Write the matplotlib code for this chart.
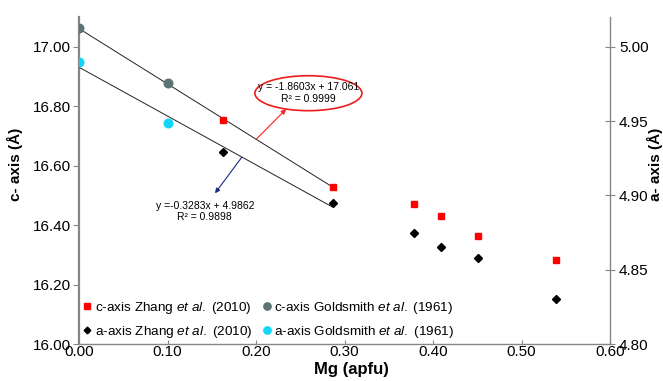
import matplotlib

matplotlib.use("Agg")
import matplotlib.pyplot as plt
from matplotlib.patches import Ellipse
import numpy as np

plt.rcParams["font.family"] = ["Liberation Sans", "DejaVu Sans"]
plt.rcParams["mathtext.fontset"] = "custom"
plt.rcParams["mathtext.rm"] = "Liberation Sans"
plt.rcParams["mathtext.it"] = "Liberation Sans:italic"

# c-axis (left scale, Å) and a-axis (right scale, Å) against Mg (apfu)
mg_zhang = [0.163, 0.287, 0.379, 0.409, 0.451, 0.539]
c_zhang = [16.754, 16.529, 16.470, 16.432, 16.362, 16.282]
a_zhang = [4.929, 4.895, 4.875, 4.865, 4.858, 4.830]

mg_gold = [0.0, 0.10]
c_gold = [17.062, 16.877]
a_gold = [4.990, 4.949]

# linear fits as printed on the chart
c_fit = (-1.8603, 17.061)
a_fit = (-0.3283, 4.9862)
fit_range = (0.0, 0.286)

lbl_c_zhang = r"c-axis Zhang $\mathit{et\ al.}$ (2010)"
lbl_c_gold = r"c-axis Goldsmith $\mathit{et\ al.}$ (1961)"
lbl_a_zhang = r"a-axis Zhang $\mathit{et\ al.}$ (2010)"
lbl_a_gold = r"a-axis Goldsmith $\mathit{et\ al.}$ (1961)"

GREY = "#868686"
SLATE = "#5c7474"
CYAN = "#12d6f7"

fig = plt.figure(figsize=(6.63, 3.81), dpi=100)
ax = fig.add_axes([79 / 663, 1 - 344 / 381, 531 / 663, 327 / 381])
ax2 = ax.twinx()

xs = np.array(fit_range)
ax.plot(xs, c_fit[0] * xs + c_fit[1], color="#222222", lw=0.7, zorder=2)
ax2.plot(xs, a_fit[0] * xs + a_fit[1], color="#222222", lw=0.7, zorder=2)

h1, = ax.plot(mg_zhang, c_zhang, "s", color="#ff0000", ms=4.6, ls="none",
              label=lbl_c_zhang, zorder=3)
h2, = ax.plot(mg_gold, c_gold, "o", color=SLATE, ms=6.2, ls="none",
              label=lbl_c_gold, zorder=3)
h3, = ax2.plot(mg_zhang, a_zhang, "D", color="black", ms=4.0, ls="none",
               label=lbl_a_zhang, zorder=3)
h4, = ax2.plot(mg_gold, a_gold, "o", color=CYAN, ms=6.2, ls="none",
               label=lbl_a_gold, zorder=3)

ax.set_xlim(0, 0.60)
ax.set_ylim(16.0, 17.1)
ax2.set_ylim(4.80, 5.02)
ax.set_xticks(np.arange(0, 0.61, 0.1))
ax.set_yticks(np.arange(16.0, 17.01, 0.2))
ax2.set_yticks(np.arange(4.80, 5.001, 0.05))
ax.xaxis.set_major_formatter(matplotlib.ticker.FormatStrFormatter("%.2f"))
ax.yaxis.set_major_formatter(matplotlib.ticker.FormatStrFormatter("%.2f"))
ax2.yaxis.set_major_formatter(matplotlib.ticker.FormatStrFormatter("%.2f"))

for a in (ax, ax2):
    a.spines["top"].set_visible(False)
    a.patch.set_visible(False)
ax.spines["right"].set_visible(False)
ax2.spines["left"].set_visible(False)
ax2.spines["bottom"].set_visible(False)
ax.spines["left"].set_color(GREY)
ax.spines["left"].set_linewidth(1.6)
ax.spines["bottom"].set_color(GREY)
ax.spines["bottom"].set_linewidth(1.0)
ax2.spines["right"].set_color(GREY)
ax2.spines["right"].set_linewidth(1.0)

ax.tick_params(axis="y", direction="out", length=4, width=0.8, color=GREY,
               labelsize=11, pad=2)
ax.tick_params(axis="x", direction="in", length=3, width=0.8, color=GREY,
               labelsize=11, pad=1)
ax2.tick_params(axis="y", direction="inout", length=7, width=0.8, color=GREY,
                labelsize=11, pad=3)

ax.set_xlabel("Mg (apfu)", fontsize=12, fontweight="bold", labelpad=0)
ax.xaxis.set_label_coords(0.5 + 7 / 531, -0.055)
ax.set_ylabel("c- axis (Å)", fontsize=11, fontweight="bold")
ax.yaxis.set_label_coords(-0.105, 0.55)
ax2.set_ylabel("a- axis (Å)", fontsize=11, fontweight="bold")
ax2.yaxis.set_label_coords(1.070, 0.55)

# fit equations
ax.text(0.2591, 16.865, "y = -1.8603x + 17.061", fontsize=7.5,
        ha="center", va="center")
ax.text(0.2591, 16.823, "R² = 0.9999", fontsize=7.5, ha="center", va="center")
ax.add_patch(Ellipse((0.432, 0.767), 0.2015, 0.107, transform=ax.transAxes,
                     fill=False, edgecolor="#ee1c1c", lw=1.2))
ax.annotate("", xy=(0.2340, 16.790), xytext=(0.2007, 16.690),
            arrowprops=dict(arrowstyle="-|>", color="#ff2020", lw=0.8,
                            mutation_scale=7, shrinkA=0, shrinkB=0))

ax.text(0.1424, 16.464, "y =-0.3283x + 4.9862", fontsize=7.5,
        ha="center", va="center")
ax.text(0.1412, 16.428, "R² = 0.9898", fontsize=7.5, ha="center", va="center")
ax.annotate("", xy=(0.1537, 16.507), xytext=(0.1839, 16.628),
            arrowprops=dict(arrowstyle="-|>", color="#1a2a80", lw=0.8,
                            mutation_scale=7, shrinkA=0, shrinkB=0))

ax2.legend([h1, h3, h2, h4], [lbl_c_zhang, lbl_a_zhang, lbl_c_gold, lbl_a_gold],
           ncol=2, loc="lower left", bbox_to_anchor=(0.008, 0.012),
           frameon=False, fontsize=9.7, handlelength=0.6, handletextpad=0.25,
           columnspacing=0.8, labelspacing=0.6, borderpad=0, borderaxespad=0,
           markerscale=0.85)

fig.savefig("out.png", dpi=100)
